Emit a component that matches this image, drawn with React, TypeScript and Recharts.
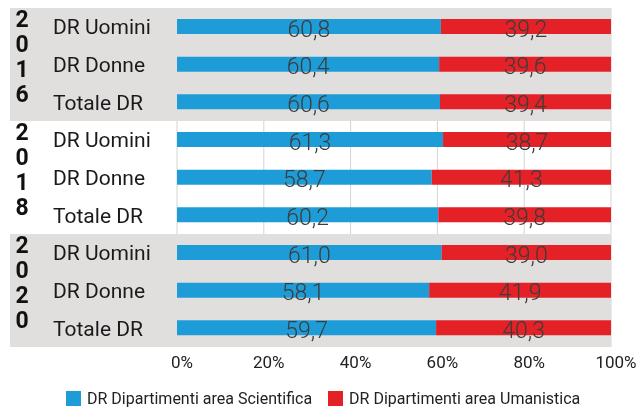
import { BarChart, Bar, XAxis, YAxis, CartesianGrid, ReferenceArea, Legend, LabelList } from 'recharts';

const years = ['2016', '2018', '2020'];
const groups = ['DR Uomini', 'DR Donne', 'Totale DR'];
// % DR per area, one entry per (year, group) in order
const scientifica = [60.8, 60.4, 60.6, 61.3, 58.7, 60.2, 61.0, 58.1, 59.7];
const umanistica = [39.2, 39.6, 39.4, 38.7, 41.3, 39.8, 39.0, 41.9, 40.3];
const xTicks = [0, 20, 40, 60, 80, 100];
const shadedYears = ['2016', '2020'];

const BLUE = '#1E9CD7';
const RED = '#E42127';
const BAND = '#E1DEDE';
const FONT = 'Roboto, "DejaVu Sans", sans-serif';

const data = years.flatMap((year, yi) =>
  groups.map((group, gi) => ({
    key: year + '|' + group,
    sci: scientifica[yi * 3 + gi],
    hum: umanistica[yi * 3 + gi],
  }))
);

const fmt = (v: number) => Number(v).toFixed(1).replace('.', ',');

function CategoryTick(props: any) {
  const { y, payload } = props;
  const [year, group] = String(payload.value).split('|');
  const isFirst = groups.indexOf(group) === 0;
  return (
    <g>
      {isFirst &&
        year.split('').map((d, i) => (
          <text key={i} x={22} y={y - 8 + i * 25} dy='0.36em' textAnchor='middle' fontFamily={FONT} fontWeight={700} fontSize={23} fill='#111'>
            {d}
          </text>
        ))}
      <text x={53} y={y} dy='0.35em' textAnchor='start' fontFamily={FONT} fontSize={21} fill='#1a1a1a'>
        {group}
      </text>
    </g>
  );
}

function ValueLabel(props: any) {
  const { x, y, width, height, value } = props;
  return (
    <text x={x + width / 2} y={y + height / 2 + 2} dy='0.36em' textAnchor='middle' fontFamily={FONT} fontWeight={300} fontSize={23} fill='#3c3c3c'>
      {fmt(value)}
    </text>
  );
}

// grey band spanning the label column and the plot for one year
function BandShape(props: any) {
  const { x, y, width, height } = props;
  return <rect x={10} y={y} width={x + width - 10} height={height} fill={BAND} />;
}

function LegendContent() {
  const items = [
    { label: 'DR Dipartimenti area Scientifica', color: BLUE },
    { label: 'DR Dipartimenti area Umanistica', color: RED },
  ];
  return (
    <div style={{ display: 'flex', alignItems: 'center', height: 18, fontFamily: FONT, fontSize: 16, color: '#222', paddingLeft: 66 }}>
      {items.map((it, i) => (
        <div key={it.label} style={{ display: 'flex', alignItems: 'center', marginLeft: i ? 16 : 0 }}>
          <span style={{ display: 'inline-block', width: 15, height: 15, background: it.color, marginRight: 6 }} />
          <span>{it.label}</span>
        </div>
      ))}
    </div>
  );
}

export default function App() {
  return (
    <div style={{ position: 'fixed', top: 0, left: 0, width: 639, height: 407 }}>
      <BarChart width={639} height={407} data={data} layout='vertical' margin={{ top: 8, right: 28, bottom: 0, left: 0 }}>
        {shadedYears.map((yr) => (
          <ReferenceArea key={yr} y1={yr + '|' + groups[0]} y2={yr + '|' + groups[2]} shape={BandShape} />
        ))}
        <CartesianGrid horizontal={false} stroke='#d4d4d4' />
        <XAxis
          type='number'
          domain={[0, 100]}
          ticks={xTicks}
          tickFormatter={(v) => v + '%'}
          axisLine={false}
          tickLine={false}
          tickSize={0}
          tickMargin={9}
          height={42}
          tick={{ fontSize: 17, fill: '#222', fontFamily: FONT, dx: 5 }}
        />
        <YAxis type='category' dataKey='key' width={177} axisLine={false} tickLine={false} tick={<CategoryTick />} interval={0} />
        <Legend verticalAlign='bottom' content={<LegendContent />} />
        <Bar dataKey='sci' stackId='a' fill={BLUE} barSize={15} isAnimationActive={false}>
          <LabelList dataKey='sci' content={<ValueLabel />} />
        </Bar>
        <Bar dataKey='hum' stackId='a' fill={RED} barSize={15} isAnimationActive={false}>
          <LabelList dataKey='hum' content={<ValueLabel />} />
        </Bar>
      </BarChart>
    </div>
  );
}
